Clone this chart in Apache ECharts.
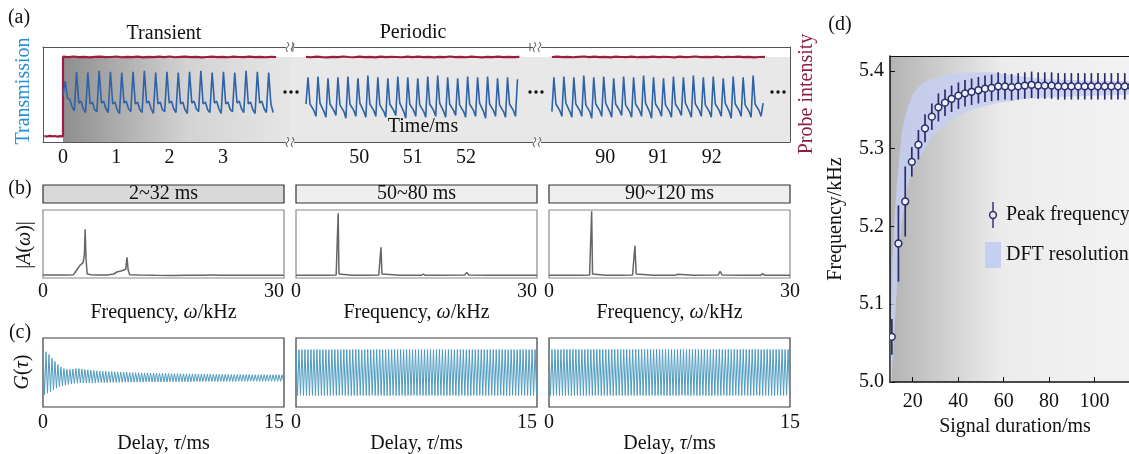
<!DOCTYPE html>
<html><head><meta charset="utf-8">
<script src="https://cdn.jsdelivr.net/npm/echarts@6/dist/echarts.min.js"></script>
<style>html,body{margin:0;padding:0;background:#fff}#c{width:1129px;height:454px}</style>
</head><body><div id="c"></div>
<script>
// ---------- (a) time traces ----------
const blueStart = [0, 49.0, 89.0];          // ms
const blueStep = [0.0424, 0.0374, 0.0374];  // ms per sample
const blue1 = [
0.49,0.64,0.46,0.45,0.37,
0.33,0.74,0.41,0.43,0.35, 0.31,0.73,0.40,0.42,0.34, 0.32,0.75,0.41,0.43,0.35,
0.31,0.74,0.40,0.42,0.34, 0.30,0.73,0.41,0.43,0.35, 0.32,0.74,0.40,0.42,0.34,
0.31,0.75,0.41,0.43,0.35, 0.30,0.73,0.40,0.42,0.34, 0.32,0.74,0.41,0.43,0.35,
0.31,0.73,0.40,0.42,0.34, 0.30,0.74,0.41,0.43,0.35, 0.32,0.75,0.40,0.42,0.34,
0.31,0.73,0.41,0.43,0.35, 0.30,0.74,0.40,0.42,0.34, 0.32,0.73,0.41,0.43,0.35,
0.31,0.75,0.40,0.42,0.34, 0.30,0.74,0.41,0.43,0.35, 0.31,0.73,0.40,0.31];
const blue2 = [
0.40,0.68,0.40,0.42,0.33, 0.27,0.69,0.41,0.41,0.32, 0.26,0.67,0.40,0.42,0.33,
0.28,0.68,0.39,0.41,0.32, 0.25,0.69,0.40,0.42,0.33, 0.27,0.67,0.41,0.41,0.32,
0.26,0.70,0.40,0.42,0.33, 0.27,0.68,0.39,0.41,0.32, 0.26,0.67,0.40,0.42,0.33,
0.28,0.69,0.41,0.41,0.32, 0.25,0.68,0.40,0.42,0.33, 0.27,0.67,0.39,0.41,0.32,
0.26,0.69,0.40,0.42,0.33, 0.27,0.70,0.41,0.41,0.32, 0.26,0.68,0.40,0.42,0.33,
0.28,0.67,0.39,0.41,0.32, 0.26,0.69,0.40,0.42,0.33, 0.27,0.68,0.41,0.41,0.32,
0.25,0.69,0.40,0.42,0.33, 0.27,0.67,0.39,0.41,0.32, 0.26,0.68,0.40,0.42,0.33,
0.27,0.66];
const blue3 = [
0.32,0.68,0.40,0.42,0.33, 0.27,0.69,0.41,0.41,0.32, 0.26,0.68,0.40,0.42,0.33,
0.27,0.70,0.39,0.41,0.32, 0.25,0.68,0.40,0.42,0.33, 0.27,0.69,0.41,0.41,0.32,
0.26,0.67,0.40,0.42,0.33, 0.28,0.69,0.39,0.41,0.32, 0.26,0.68,0.40,0.42,0.33,
0.27,0.70,0.41,0.41,0.32, 0.25,0.68,0.40,0.42,0.33, 0.27,0.67,0.39,0.41,0.32,
0.26,0.69,0.40,0.42,0.33, 0.28,0.68,0.41,0.41,0.32, 0.26,0.70,0.40,0.42,0.33,
0.27,0.68,0.39,0.41,0.32, 0.26,0.69,0.40,0.42,0.33, 0.27,0.67,0.41,0.41,0.32,
0.25,0.69,0.40,0.42,0.33, 0.27,0.68,0.39,0.41,0.32, 0.26,0.70,0.40,0.42,0.33,
0.27,0.41];
const redLowStart = -0.35, redLowStep = 0.05;
const redLow1 = [0.062,0.058,0.065,0.060,0.063,0.057,0.061,0.060];
const redStart = [0, 49.0, 89.0], redStep = 0.1;
const red1 = [0.898,0.893,0.900,0.894,0.897,0.891,0.896,0.899,0.893,0.895,
0.900,0.892,0.897,0.894,0.899,0.891,0.896,0.893,0.898,0.894,
0.900,0.892,0.896,0.899,0.893,0.897,0.891,0.895,0.899,0.894,
0.897,0.892,0.898,0.895,0.893,0.899,0.894,0.896,0.892,0.897,0.895];
const red2 = [0.896,0.892,0.899,0.894,0.891,0.897,0.893,0.900,0.895,0.892,
0.898,0.894,0.896,0.891,0.899,0.893,0.897,0.895,0.892,0.898,
0.894,0.899,0.893,0.896,0.891,0.897,0.894,0.900,0.893,0.896,
0.892,0.898,0.895,0.891,0.897,0.894,0.899,0.893,0.896,0.894,0.897];
const red3 = [0.895,0.899,0.893,0.897,0.892,0.896,0.900,0.894,0.898,0.893,
0.896,0.891,0.899,0.895,0.893,0.898,0.892,0.896,0.894,0.899,
0.893,0.897,0.895,0.891,0.898,0.894,0.896,0.900,0.893,0.897,
0.894,0.899,0.892,0.896,0.895,0.898,0.893,0.897,0.891,0.895,0.896];
const segTicks = [[0,1,2,3,4],[49,50,51,52,53],[89,90,91,92,93]];
const segLabels = [[0,1,2,3],[50,51,52],[90,91,92]];
const segRange = [[-0.375,4.259],[48.70,53.33],[88.72,93.47]];

// ---------- (b) spectra ----------
const specTitles = ['2~32 ms','50~80 ms','90~120 ms'];
const specF1 = [0,1,2,3,3.8,4.2,4.6,5.0,5.15,5.25,5.35,5.5,6,7,8,8.8,9.2,9.8,10.3,10.45,10.6,10.8,12,14,16,18,20,20.9,21.1,21.3,22,24,26.2,26.4,26.6,28,30];
const specA1 = [0.045,0.045,0.044,0.046,0.05,0.12,0.19,0.23,0.35,0.73,0.30,0.06,0.05,0.045,0.046,0.06,0.09,0.11,0.13,0.31,0.12,0.05,0.045,0.04,0.038,0.04,0.04,0.045,0.06,0.045,0.04,0.04,0.04,0.05,0.04,0.04,0.04];
const specF2 = [0,2,4,5.0,5.15,5.25,5.35,5.5,7,9,10.3,10.45,10.58,10.7,10.85,13,15.6,15.85,16.1,18,21.0,21.25,21.5,24,26.3,26.5,26.7,30];
const specA2 = [0.04,0.04,0.04,0.045,0.06,0.97,0.06,0.045,0.04,0.04,0.045,0.06,0.46,0.06,0.045,0.04,0.04,0.06,0.04,0.04,0.045,0.085,0.045,0.04,0.04,0.06,0.04,0.04];
const specF3 = [0,2,4,5.05,5.2,5.31,5.42,5.6,7,9,10.4,10.55,10.7,10.85,11,13,15.7,15.97,16.2,18,21.05,21.3,21.55,24,26.35,26.6,26.85,30];
const specA3 = [0.04,0.04,0.04,0.045,0.06,1.0,0.06,0.045,0.04,0.04,0.045,0.06,0.485,0.06,0.045,0.04,0.04,0.055,0.04,0.04,0.045,0.10,0.045,0.04,0.04,0.065,0.04,0.04];

// ---------- (c) autocorrelation: per-cycle maxima / minima ----------
const gPeriod = 0.186; // ms
const gTop1 = [1.00,0.90,0.78,0.62,0.48,0.34,0.24,0.17,0.14,0.13,
0.15,0.17,0.17,0.15,0.13,0.12,0.10,0.09,0.07,0.06,
0.05,0.05,0.04,0.04,0.03,0.02,0.02,0.01,0.01,0.00,
0.00,-0.01,-0.01,-0.02,-0.02,-0.02,-0.03,-0.03,-0.03,-0.04,
-0.04,-0.04,-0.04,-0.05,-0.05,-0.05,-0.05,-0.06,-0.06,-0.06,
-0.06,-0.06,-0.07,-0.07,-0.07,-0.07,-0.07,-0.08,-0.08,-0.08,
-0.08,-0.08,-0.08,-0.09,-0.09,-0.09,-0.09,-0.09,-0.09,-0.09,
-0.10,-0.10,-0.10,-0.10,-0.10,-0.10,-0.10,-0.10,-0.10,-0.10,-0.10];
const gBot1 = [-0.96,-0.90,-0.83,-0.75,-0.68,-0.62,-0.58,-0.55,-0.52,-0.49,
-0.47,-0.46,-0.45,-0.45,-0.46,-0.45,-0.45,-0.45,-0.44,-0.44,
-0.44,-0.44,-0.43,-0.43,-0.43,-0.43,-0.43,-0.42,-0.42,-0.42,
-0.42,-0.42,-0.42,-0.42,-0.41,-0.41,-0.41,-0.41,-0.41,-0.41,
-0.41,-0.41,-0.40,-0.40,-0.40,-0.40,-0.40,-0.40,-0.40,-0.40,
-0.40,-0.39,-0.39,-0.39,-0.39,-0.39,-0.39,-0.39,-0.39,-0.39,
-0.39,-0.39,-0.39,-0.39,-0.39,-0.38,-0.38,-0.38,-0.38,-0.38,
-0.38,-0.38,-0.38,-0.38,-0.38,-0.38,-0.38,-0.38,-0.38,-0.38,-0.38];
const gTop2 = [1.00,0.99,1.00,1.00,0.99,1.00,1.00,1.00,0.99,1.00,
1.00,0.99,1.00,1.00,1.00,0.99,1.00,1.00,0.99,1.00,
1.00,1.00,0.99,1.00,1.00,0.99,1.00,1.00,1.00,0.99,
1.00,1.00,0.99,1.00,1.00,1.00,0.99,1.00,1.00,0.99,
1.00,1.00,1.00,0.99,1.00,1.00,0.99,1.00,1.00,1.00,
0.99,1.00,1.00,0.99,1.00,1.00,1.00,0.99,1.00,1.00,
0.99,1.00,1.00,1.00,0.99,1.00,1.00,0.99,1.00,1.00,
1.00,0.99,1.00,1.00,0.99,1.00,1.00,1.00,0.99,1.00,1.00];
const gBot2 = [-1.00,-0.99,-1.00,-1.00,-1.00,-0.99,-1.00,-1.00,-0.99,-1.00,
-1.00,-1.00,-0.99,-1.00,-1.00,-0.99,-1.00,-1.00,-1.00,-0.99,
-1.00,-0.99,-1.00,-1.00,-1.00,-0.99,-1.00,-1.00,-0.99,-1.00,
-1.00,-1.00,-0.99,-1.00,-1.00,-0.99,-1.00,-1.00,-1.00,-0.99,
-1.00,-0.99,-1.00,-1.00,-1.00,-0.99,-1.00,-1.00,-0.99,-1.00,
-1.00,-1.00,-0.99,-1.00,-1.00,-0.99,-1.00,-1.00,-1.00,-0.99,
-1.00,-0.99,-1.00,-1.00,-1.00,-0.99,-1.00,-1.00,-0.99,-1.00,
-1.00,-1.00,-0.99,-1.00,-1.00,-0.99,-1.00,-1.00,-1.00,-0.99,-1.00];
const gTop3 = [1.01,1.00,1.01,1.00,1.00,1.01,1.00,1.01,1.00,1.00,
1.01,1.00,1.00,1.01,1.00,1.01,1.00,1.00,1.01,1.00,
1.00,1.01,1.00,1.01,1.00,1.00,1.01,1.00,1.00,1.01,
1.00,1.01,1.00,1.00,1.01,1.00,1.01,1.00,1.00,1.01,
1.00,1.00,1.01,1.00,1.01,1.00,1.00,1.01,1.00,1.01,
1.00,1.00,1.01,1.00,1.00,1.01,1.00,1.01,1.00,1.00,
1.01,1.00,1.01,1.00,1.00,1.01,1.00,1.00,1.01,1.00,
1.01,1.00,1.00,1.01,1.00,1.01,1.00,1.00,1.01,1.00,1.00];
const gBot3 = [-1.00,-1.00,-0.99,-1.00,-1.00,-1.00,-0.99,-1.00,-1.00,-0.99,
-1.00,-1.00,-1.00,-0.99,-1.00,-1.00,-0.99,-1.00,-1.00,-1.00,
-0.99,-1.00,-1.00,-0.99,-1.00,-1.00,-1.00,-0.99,-1.00,-1.00,
-0.99,-1.00,-1.00,-1.00,-0.99,-1.00,-1.00,-0.99,-1.00,-1.00,
-1.00,-0.99,-1.00,-1.00,-0.99,-1.00,-1.00,-1.00,-0.99,-1.00,
-1.00,-0.99,-1.00,-1.00,-1.00,-0.99,-1.00,-1.00,-0.99,-1.00,
-1.00,-1.00,-0.99,-1.00,-1.00,-0.99,-1.00,-1.00,-1.00,-0.99,
-1.00,-1.00,-0.99,-1.00,-1.00,-1.00,-0.99,-1.00,-1.00,-0.99,-1.00];

// ---------- (d) peak frequency vs signal duration ----------
const durations = [10.8,13.7,16.7,19.6,22.5,25.4,28.4,31.3,34.2,37.1,40.1,43.0,45.9,48.9,51.8,54.7,57.6,60.6,63.5,66.4,69.3,72.3,75.2,78.1,81.1,84.0,86.9,89.8,92.8,95.7,98.6,101.5,104.5,107.4,110.3,113.3,116.2];
const peakFreq = [5.058,5.178,5.232,5.283,5.305,5.326,5.341,5.353,5.359,5.364,5.368,5.371,5.373,5.375,5.377,5.378,5.380,5.380,5.379,5.380,5.381,5.382,5.381,5.381,5.381,5.380,5.380,5.380,5.380,5.380,5.380,5.380,5.380,5.380,5.380,5.380,5.380];
const peakErr = [0.023,0.049,0.045,0.019,0.019,0.018,0.017,0.018,0.017,0.017,0.017,0.017,0.017,0.017,0.017,0.017,0.018,0.017,0.017,0.017,0.017,0.017,0.017,0.017,0.017,0.017,0.017,0.017,0.017,0.017,0.017,0.017,0.017,0.017,0.017,0.017,0.017];
const dftX = [10.3,11.0,12.0,13.0,14.0,15.0,16.5,18.0,20.0,22.5,25.0,28.0,31.0,35.0,40.0,45.0,50.0,55.0,60.0,70.0,80.0,90.0,100.0,110.0,120.0];
const dftLow = [4.97,5.02,5.07,5.12,5.16,5.20,5.232,5.255,5.272,5.287,5.298,5.312,5.322,5.332,5.342,5.349,5.353,5.357,5.360,5.364,5.366,5.367,5.368,5.369,5.370];
const dftHigh = [5.06,5.15,5.21,5.255,5.285,5.315,5.34,5.355,5.37,5.379,5.385,5.389,5.392,5.395,5.397,5.398,5.398,5.398,5.396,5.392,5.389,5.388,5.387,5.387,5.386];

// ---------- build ----------
const FONT = "'Liberation Serif','Times New Roman',serif";
const seq = (start, step, vals) => vals.map((v, i) => [+(start + i * step).toFixed(4), v]);
const zig = (top, bot, P) => { const o = []; top.forEach((t, k) => { o.push([k * P, t]); o.push([k * P + P / 2, bot[k]]); }); return o; };
const ital = { i: { fontStyle: 'italic', fontFamily: FONT, fontSize: 20, color: '#111' } };

const chart = echarts.init(document.getElementById('c'), null, { renderer: 'canvas' });

const grids = [], xAxes = [], yAxes = [], series = [];
// (a)
const aGrid = [[43, 247], [290, 247], [537, 253]];
const blues = [blue1, blue2, blue3], reds = [red1, red2, red3];
const grayFill = [
  new echarts.graphic.LinearGradient(0, 0, 1, 0, [{ offset: 0, color: '#8e8e8e' }, { offset: 0.55, color: '#d3d3d3' }, { offset: 1, color: '#e6e6e6' }]),
  '#e8e8e8', '#e8e8e8'];
for (let s = 0; s < 3; s++) {
  grids.push({ left: aGrid[s][0], width: aGrid[s][1], top: 47, height: 95, outerBoundsMode: 'none' });
  xAxes.push({ gridIndex: s, type: 'value', min: segRange[s][0], max: segRange[s][1],
    axisLine: { onZero: false, lineStyle: { color: '#555', width: 1 } },
    axisTick: { inside: true, length: 4, customValues: segTicks[s], lineStyle: { color: '#555' } },
    axisLabel: { customValues: segLabels[s], fontSize: 20, fontFamily: FONT, color: '#111', margin: 6 },
    splitLine: { show: false } });
  xAxes.push({ gridIndex: s, type: 'value', position: 'top', min: segRange[s][0], max: segRange[s][1],
    axisLine: { onZero: false, lineStyle: { color: '#555', width: 1 } }, axisTick: { show: false }, axisLabel: { show: false }, splitLine: { show: false } });
  yAxes.push({ gridIndex: s, type: 'value', min: 0, max: 1, position: s === 2 ? 'right' : 'left',
    axisLine: { show: s !== 1, onZero: false, lineStyle: { color: '#555' } }, axisTick: { show: false }, axisLabel: { show: false }, splitLine: { show: false } });
  const redData = s === 0 ? seq(redLowStart, redLowStep, redLow1).concat(seq(redStart[0], redStep, reds[0])) : seq(redStart[s], redStep, reds[s]);
  series.push({ type: 'line', xAxisIndex: s * 2, yAxisIndex: s, data: redData, symbol: 'none', z: 3,
    lineStyle: { color: '#9b1d40', width: 2.2 }, silent: true,
    markArea: { silent: true, itemStyle: { color: grayFill[s] },
      data: [[{ xAxis: s === 0 ? 0 : segRange[s][0], yAxis: 0 }, { xAxis: segRange[s][1], yAxis: 0.895 }]] } });
  series.push({ type: 'line', xAxisIndex: s * 2, yAxisIndex: s, data: seq(blueStart[s], blueStep[s], blues[s]), symbol: 'none', z: 4,
    lineStyle: { color: '#2f62a6', width: 1.6 }, silent: true });
}
// (b) and (c)
const pLeft = [43, 296, 549];
const specF = [specF1, specF2, specF3], specA = [specA1, specA2, specA3];
const gTop = [gTop1, gTop2, gTop3], gBot = [gBot1, gBot2, gBot3];
for (let p = 0; p < 3; p++) {
  const gi = grids.length;
  grids.push({ left: pLeft[p], width: 241, top: 210, height: 68, show: true, borderColor: '#8a8a8a', borderWidth: 1.2, backgroundColor: '#fff', outerBoundsMode: 'none' });
  xAxes.push({ gridIndex: gi, type: 'value', min: 0, max: 30, axisLine: { show: false, onZero: false }, axisTick: { show: false },
    axisLabel: { customValues: [0, 30], fontSize: 20, fontFamily: FONT, color: '#111', margin: 4, alignMaxLabel: p < 2 ? 'right' : 'center' },
    splitLine: { show: false },
    name: 'Frequency, {i|ω}/kHz', nameLocation: 'middle', nameGap: 21,
    nameTextStyle: { fontSize: 20, fontFamily: FONT, color: '#111', rich: ital } });
  yAxes.push({ gridIndex: gi, type: 'value', min: 0, max: 1.02, show: false });
  series.push({ type: 'line', xAxisIndex: xAxes.length - 1, yAxisIndex: yAxes.length - 1, symbol: 'none', silent: true,
    data: specF[p].map((f, i) => [f, specA[p][i]]), lineStyle: { color: '#666', width: 1.5 } });
}
for (let p = 0; p < 3; p++) {
  const gi = grids.length;
  grids.push({ left: pLeft[p], width: 241, top: 338, height: 69, show: true, borderColor: '#3a3a3a', borderWidth: 1.2, backgroundColor: '#fff', outerBoundsMode: 'none' });
  xAxes.push({ gridIndex: gi, type: 'value', min: 0, max: 15, axisLine: { show: false, onZero: false }, axisTick: { show: false },
    axisLabel: { customValues: [0, 15], fontSize: 20, fontFamily: FONT, color: '#111', margin: 6, alignMaxLabel: p < 2 ? 'right' : 'center' },
    splitLine: { show: false },
    name: 'Delay, {i|τ}/ms', nameLocation: 'middle', nameGap: 27,
    nameTextStyle: { fontSize: 20, fontFamily: FONT, color: '#111', rich: ital } });
  yAxes.push({ gridIndex: gi, type: 'value', min: -1.5, max: 1.5, show: false });
  series.push({ type: 'line', xAxisIndex: xAxes.length - 1, yAxisIndex: yAxes.length - 1, symbol: 'none', silent: true,
    data: zig(gTop[p], gBot[p], gPeriod), lineStyle: { color: '#4f9bc0', width: 1 } });
}
// (d)
const dg = grids.length;
grids.push({ left: 890, width: 250, top: 56, height: 326, show: true, borderWidth: 0, outerBoundsMode: 'none', containLabel: false,
  backgroundColor: new echarts.graphic.LinearGradient(0, 0, 1, 0, [{ offset: 0, color: '#b4b4b4' }, { offset: 0.45, color: '#ececec' }, { offset: 1, color: '#f3f3f3' }]) });
xAxes.push({ gridIndex: dg, type: 'value', min: 10, max: 120,
  axisLine: { onZero: false, lineStyle: { color: '#111', width: 1.5 } },
  axisTick: { inside: true, length: 5, customValues: [20, 40, 60, 80, 100], lineStyle: { color: '#111' } },
  axisLabel: { customValues: [20, 40, 60, 80, 100], fontSize: 20, fontFamily: FONT, color: '#111', margin: 10 },
  splitLine: { show: false },
  name: 'Signal duration/ms', nameLocation: 'middle', nameGap: 32, nameTextStyle: { fontSize: 20, fontFamily: FONT, color: '#111' } });
const dxIdx = xAxes.length - 1;
xAxes.push({ gridIndex: dg, type: 'value', position: 'top', min: 10, max: 120,
  axisLine: { onZero: false, lineStyle: { color: '#111', width: 1.2 } }, axisTick: { show: false }, axisLabel: { show: false }, splitLine: { show: false } });
yAxes.push({ gridIndex: dg, type: 'value', min: 5.0, max: 5.419,
  axisLine: { onZero: false, lineStyle: { color: '#111', width: 1.5 } },
  axisTick: { inside: true, length: 5, customValues: [5.0, 5.1, 5.2, 5.3, 5.4], lineStyle: { color: '#111' } },
  axisLabel: { customValues: [5.0, 5.1, 5.2, 5.3, 5.4], formatter: v => v.toFixed(1), fontSize: 20, fontFamily: FONT, color: '#111', margin: 6 },
  splitLine: { show: false },
  name: 'Frequency/kHz', nameLocation: 'middle', nameGap: 44, nameTextStyle: { fontSize: 20, fontFamily: FONT, color: '#111' } });
const dyIdx = yAxes.length - 1;
series.push({ name: 'DFT resolution', type: 'custom', xAxisIndex: dxIdx, yAxisIndex: dyIdx, silent: true, clip: true, z: 2,
  data: dftX.map((x, i) => [x, dftLow[i], dftHigh[i]]), encode: { x: 0, y: [1, 2] },
  itemStyle: { color: '#c6cff2' },
  renderItem: (params, api) => {
    if (params.dataIndex !== 0) return null;
    const up = dftX.map((x, i) => api.coord([x, dftHigh[i]]));
    const lo = dftX.map((x, i) => api.coord([x, dftLow[i]])).reverse();
    return { type: 'polygon', shape: { points: up.concat(lo) }, style: { fill: '#c6cff2', opacity: 0.85 } };
  } });
series.push({ name: 'Peak frequency', type: 'custom', xAxisIndex: dxIdx, yAxisIndex: dyIdx, z: 5, silent: true, clip: true,
  data: durations.map((d, i) => [d, peakFreq[i], peakErr[i]]), encode: { x: 0, y: 1 },
  itemStyle: { color: '#2b2c6c' },
  renderItem: (params, api) => {
    const x = api.value(0), y = api.value(1), e = api.value(2);
    const p = api.coord([x, y]), hi = api.coord([x, y + e]), lo = api.coord([x, y - e]);
    return { type: 'group', children: [
      { type: 'line', shape: { x1: p[0], y1: hi[1], x2: p[0], y2: lo[1] }, style: { stroke: '#2b2c6c', lineWidth: 1.7 } },
      { type: 'circle', shape: { cx: p[0], cy: p[1], r: 3.4 }, style: { fill: '#eef0f8', stroke: '#2b2c6c', lineWidth: 1.5 } }
    ] };
  } });

// ---------- decorations ----------
const T = (text, x, y, extra) => Object.assign({ type: 'text', x, y, silent: true, z: 50,
  style: Object.assign({ text, fontSize: 20, fontFamily: FONT, fill: '#111', align: 'center', verticalAlign: 'middle', rich: ital }, (extra && extra.style) || {}) },
  extra ? { rotation: extra.rotation || 0 } : {});
const graphics = [
  T('(a)', 19, 18), T('(b)', 20, 189), T('(c)', 20, 333), T('(d)', 840, 25),
  T('Transient', 164, 34), T('Periodic', 413, 33), T('Time/ms', 423, 127),
  T('Transmission', 24, 91, { rotation: Math.PI / 2, style: { fill: '#2a8fd6' } }),
  T('Probe intensity', 807, 94, { rotation: Math.PI / 2, style: { fill: '#8e1f40' } }),
  T('|{i|A}({i|ω})|', 25, 245, { rotation: Math.PI / 2 }),
  T('{i|G}({i|τ})', 23, 372, { rotation: Math.PI / 2 })
];
const hdrFill = ['#d9d9d9', '#efefef', '#efefef'];
for (let p = 0; p < 3; p++) {
  graphics.push({ type: 'rect', shape: { x: pLeft[p], y: 185, width: 241, height: 18 }, style: { fill: hdrFill[p], stroke: '#333', lineWidth: 1.2 }, silent: true, z: 40 });
  graphics.push(T(specTitles[p], pLeft[p] + 120.5, 194));
}
[290, 537].forEach(bx => {
  [47, 142].forEach(by => {
    graphics.push({ type: 'rect', shape: { x: bx - 4, y: by - 2, width: 8, height: 4 }, style: { fill: '#fff' }, silent: true, z: 45 });
    [-2.5, 2.5].forEach(dx => graphics.push({ type: 'polyline', silent: true, z: 46,
      shape: { points: [[bx + dx, by - 5], [bx + dx + 1.5, by - 2], [bx + dx - 1.5, by + 2], [bx + dx, by + 5]] },
      style: { stroke: '#555', lineWidth: 1, fill: null } }));
  });
});
[[293, 47], [530, 47]].forEach(([x, y]) => graphics.push({ type: 'line', shape: { x1: x, y1: y - 4, x2: x, y2: y + 4 }, style: { stroke: '#555', lineWidth: 1 }, silent: true, z: 46 }));
[[285, 92], [530, 92], [772, 92]].forEach(([x, y]) => [0, 6, 12].forEach(d =>
  graphics.push({ type: 'circle', shape: { cx: x + d, cy: y, r: 1.7 }, style: { fill: '#111' }, silent: true, z: 46 })));

chart.setOption({
  animation: false,
  backgroundColor: '#fff',
  grid: grids, xAxis: xAxes, yAxis: yAxes, series,
  legend: { orient: 'vertical', left: 980, top: 197, itemWidth: 16, itemHeight: 26, itemGap: 14,
    textStyle: { fontSize: 20, fontFamily: FONT, color: '#111' }, selectedMode: false,
    data: [
      { name: 'Peak frequency', icon: 'path://M-1.2,-22 L1.2,-22 L1.2,-7 L-1.2,-7 Z M-7,0 A7,7 0 1,1 7,0 A7,7 0 1,1 -7,0 Z M-4.5,0 A4.5,4.5 0 1,0 4.5,0 A4.5,4.5 0 1,0 -4.5,0 Z M-1.2,7 L1.2,7 L1.2,22 L-1.2,22 Z', itemStyle: { color: '#2b2c6c' } },
      { name: 'DFT resolution', icon: 'rect', itemStyle: { color: '#c6cff2' } }
    ] },
  graphic: graphics
});
</script></body></html>
